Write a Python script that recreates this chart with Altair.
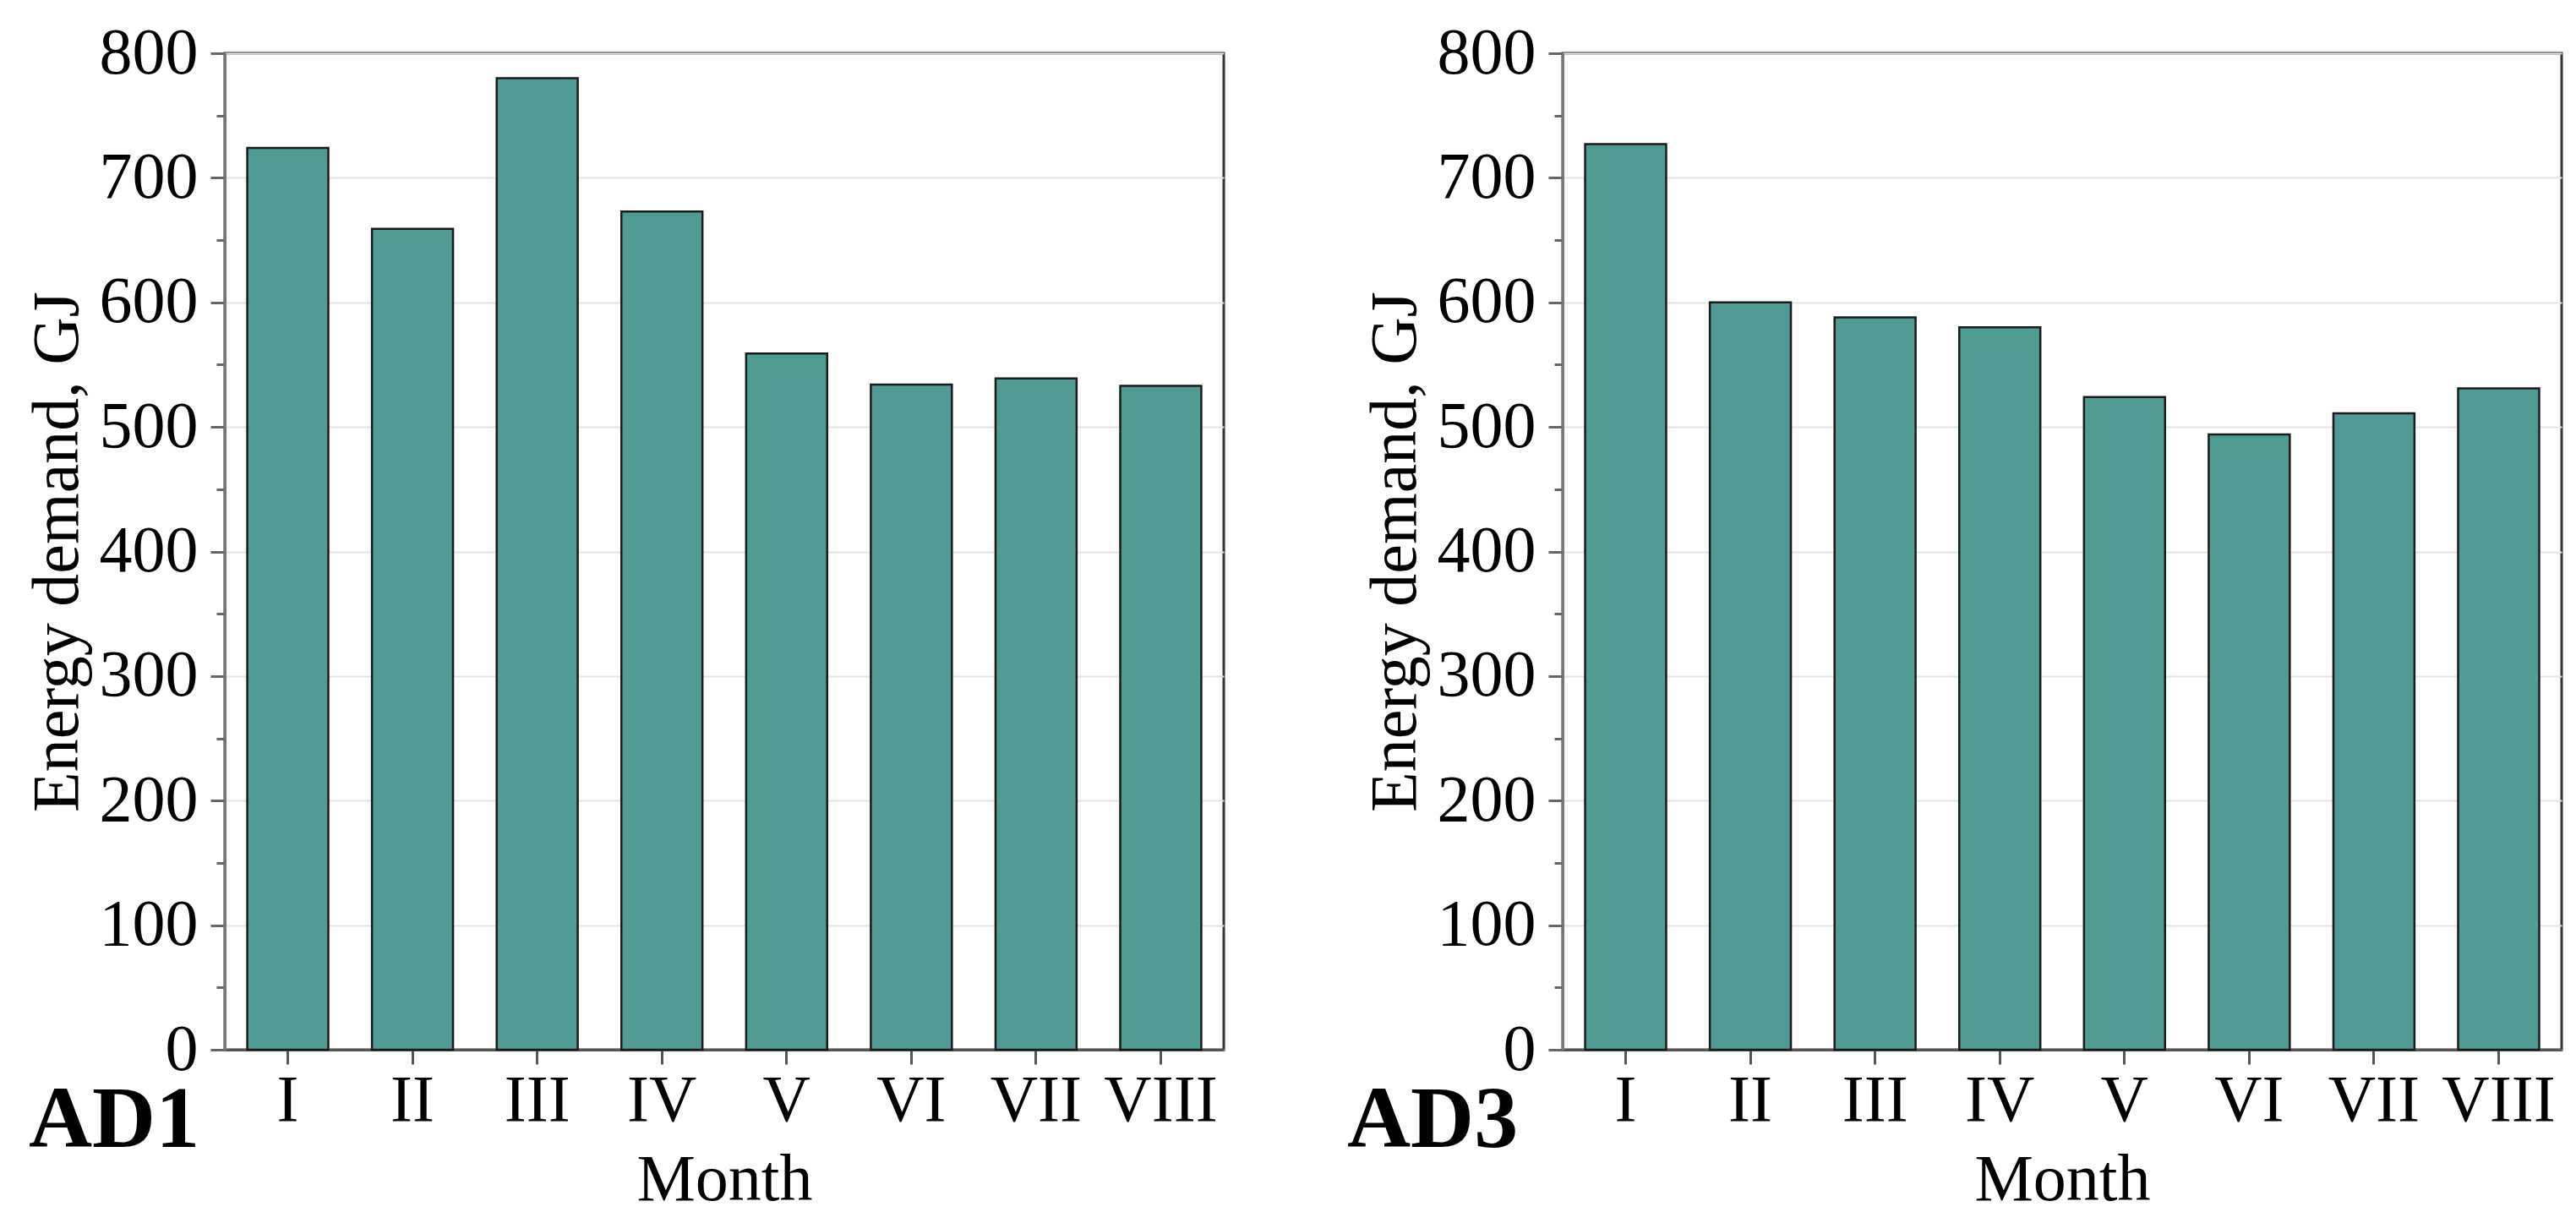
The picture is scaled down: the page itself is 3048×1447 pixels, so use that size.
import altair as alt
import pandas as pd

months = ["I", "II", "III", "IV", "V", "VI", "VII", "VIII"]
ad1_values = [724, 659, 780, 673, 559, 534, 539, 533]
ad3_values = [727, 600, 588, 580, 524, 494, 511, 531]
panel_labels = ["AD1", "AD3"]
y_tick_values = list(range(0, 801, 50))

FONT = "Liberation Serif"
BAR_COLOR = "#509b94"
W, H = 1182, 1179


def panel(values, label, label_dx):
    df = pd.DataFrame({"Month": months, "Energy": values})
    x = alt.X(
        "Month:N",
        sort=months,
        title="Month",
        scale=alt.Scale(paddingInner=0.35, paddingOuter=0.18),
        axis=alt.Axis(
            labelAngle=0,
            tickSize=17,
            tickWidth=3,
            tickColor="#555555",
            domainColor="#555555",
            domainWidth=3,
            labelPadding=4,
            titlePadding=16,
            grid=False,
        ),
    )
    y = alt.Y(
        "Energy:Q",
        title="Energy demand, GJ",
        scale=alt.Scale(domain=[0, 800], nice=False, zero=True),
        axis=alt.Axis(
            values=y_tick_values,
            tickSize={"condition": {"test": "datum.value % 100 === 0", "value": 17}, "value": 10},
            labelExpr="datum.value % 100 === 0 ? datum.label : ''",
            gridOpacity={"condition": {"test": "datum.value % 100 === 0", "value": 1}, "value": 0},
            gridColor="#e4e4e4",
            gridWidth=2,
            tickWidth=3,
            tickColor="#666666",
            domainColor="#777777",
            domainWidth=3,
            labelPadding=15,
            titlePadding=10,
        ),
    )
    bars = alt.Chart(df).mark_bar(
        color=BAR_COLOR, stroke="#1b1b1b", strokeWidth=2.5
    ).encode(x=x, y=y)
    lab = alt.Chart(pd.DataFrame({"label": [label]})).mark_text(
        font=FONT, fontWeight="bold", fontSize=104, align="left",
        baseline="alphabetic", color="black"
    ).encode(text="label:N", x=alt.value(label_dx), y=alt.value(H + 115))
    return alt.layer(bars, lab).properties(width=W, height=H)


left = panel(ad1_values, panel_labels[0], -232)
right = panel(ad3_values, panel_labels[1], -255)

chart = alt.hconcat(left, right, spacing=401, bounds="flush").properties(
    padding={"left": 19, "top": 14, "right": 5, "bottom": 0},
    background="white",
).configure_view(
    stroke="#333333", strokeWidth=3
).configure_axis(
    labelFont=FONT,
    titleFont=FONT,
    labelFontSize=78,
    titleFontSize=78,
    labelColor="black",
    titleColor="black",
    titleFontWeight="normal",
)

chart.save("out.html", embed_options={"renderer": "svg", "actions": False})
